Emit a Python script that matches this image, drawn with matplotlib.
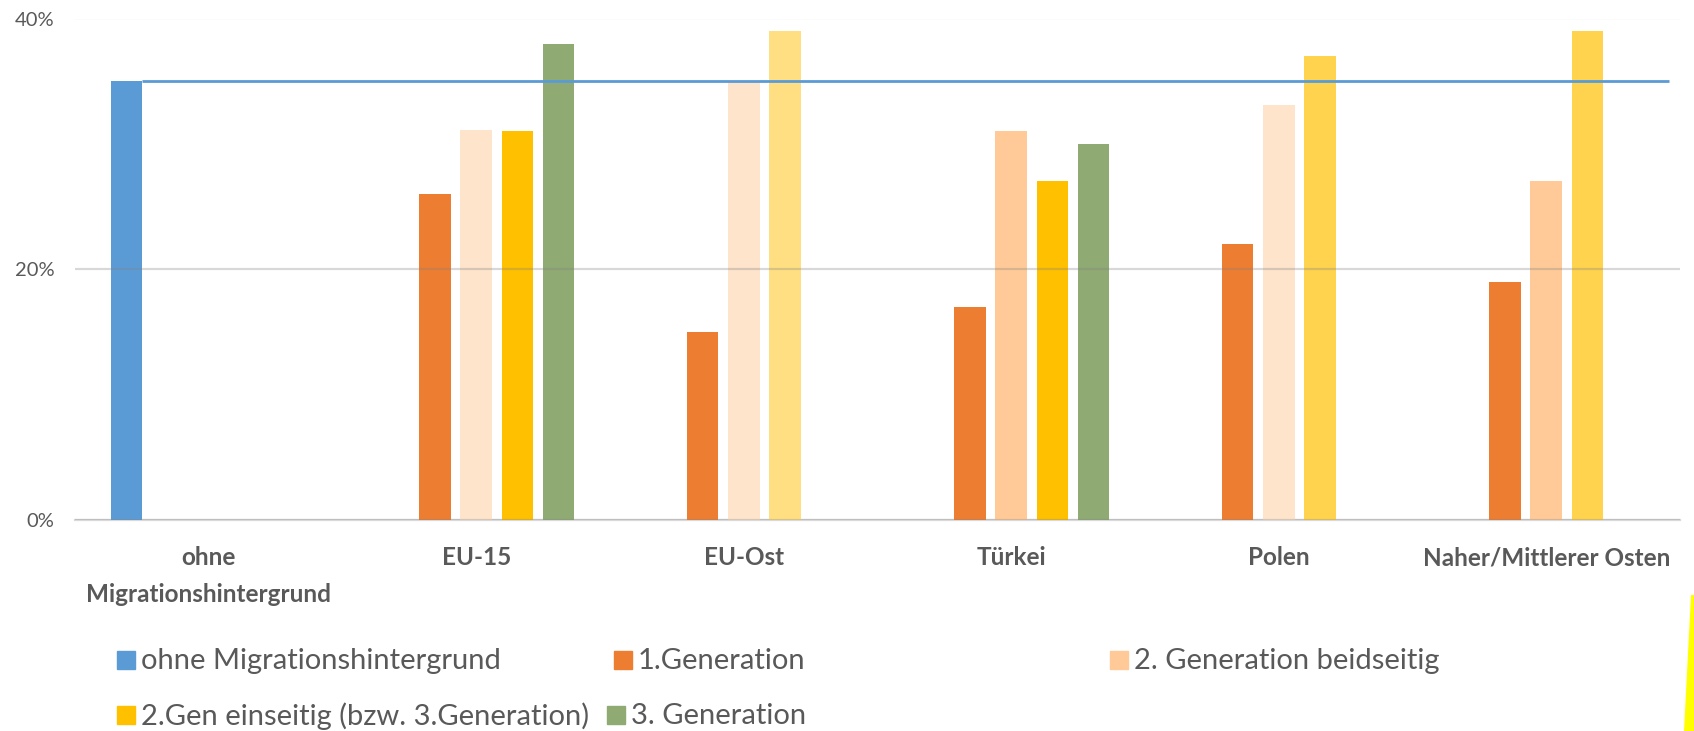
import numpy as np
import matplotlib
matplotlib.use("Agg")
import matplotlib.pyplot as plt
from matplotlib.patches import Rectangle, Polygon

plt.rcParams['font.family'] = ['Lato', 'DejaVu Sans']

# categories and series (values in %)
categories = ["ohne\nMigrationshintergrund", "EU-15", "EU-Ost", "Türkei", "Polen",
              "Naher/Mittlerer Osten"]
series_names = ["ohne Migrationshintergrund", "1.Generation", "2. Generation beidseitig",
                "2.Gen einseitig (bzw. 3.Generation)", "3. Generation"]
ohne_mh = [35, 0, 0, 0, 0, 0]
gen1 = [0, 26, 15, 17, 22, 19]
gen2_beid = [0, 31.1, 35, 31, 33.1, 27]
gen2_ein = [0, 31, 39, 27, 37, 39]
gen3 = [0, 38, 0, 30, 0, 0]
reference_level = 35
reference_end = 5.46

values = [ohne_mh, gen1, gen2_beid, gen2_ein, gen3]

# colours per series and per category (the source chart varies the shades)
blue = "#5B9BD5"
orange = "#ED7D31"
peach_light = "#FEE4CB"
peach = "#FFCA97"
gold = "#FFC000"
gold_light = "#FFDF82"
gold_mid = "#FFD34E"
green = "#8FAA73"
bar_colors = [
    [blue] * 6,
    [orange] * 6,
    [peach_light, peach_light, peach_light, peach, peach_light, peach],
    [gold, gold, gold_light, gold, gold_mid, gold_mid],
    [green] * 6,
]
legend_colors = [blue, orange, peach, gold, green]
text_color = "#595959"

W, H = 1694, 731
fig = plt.figure(figsize=(W / 100, H / 100), dpi=100)
ax = fig.add_axes([75 / W, 1 - 520 / H, (1680 - 75) / W, (520 - 18.5) / H])

x = np.arange(len(categories))
pitch = 0.1535
width = 0.118
for i, vals in enumerate(values):
    offs = (i - 2) * pitch
    for j, v in enumerate(vals):
        if v > 0:
            ax.bar(x[j] + offs, v, width, color=bar_colors[i][j], zorder=2)

# reference line from the edge of the blue bar
x0 = x[0] - 2 * pitch + width / 2
ax.plot([x0, reference_end], [reference_level, reference_level], color=blue, lw=2,
        zorder=3, solid_capstyle='butt')

ax.set_xlim(-0.5, len(categories) - 0.5)
ax.set_ylim(0, 40)
ax.set_yticks([0, 20, 40])
ax.set_yticklabels(["0%", "20%", "40%"])
ax.yaxis.grid(True, color="#808080", alpha=0.3, lw=1.6, zorder=4)
ax.set_axisbelow(False)
for s in ["top", "right", "left"]:
    ax.spines[s].set_visible(False)
ax.spines["bottom"].set_color("#D9D9D9")
ax.spines["bottom"].set_linewidth(1.6)
ax.spines["bottom"].set_zorder(1)
ax.tick_params(axis="y", length=0, pad=15, labelsize=14.5, labelcolor=text_color)
ax.tick_params(axis="x", length=0, pad=19, labelcolor=text_color)
ax.set_xticks(x)
ax.set_xticklabels(categories, fontsize=17.5, fontweight="bold", linespacing=1.7)

# legend drawn by hand to keep the irregular spacing of the original
legend_pos = [(117, 660), (614, 660), (1110, 660), (117, 715), (607, 715)]
sq = 18
for name, col, (lx, ly) in zip(series_names, legend_colors, legend_pos):
    fig.add_artist(Rectangle((lx / W, 1 - (ly + sq / 2) / H), sq / W, sq / H,
                             transform=fig.transFigure, color=col))
    fig.text((lx + sq + 6) / W, 1 - (ly + 1) / H, name, fontsize=21, color=text_color,
             va="center", ha="left")

# yellow streak at the right edge of the original screenshot
fig.add_artist(Polygon([(1691 / W, 1 - 595 / H), (1, 1 - 595 / H), (1, 0), (1684 / W, 0)],
                       closed=True, transform=fig.transFigure, color="#FFFF00", lw=0))

fig.savefig("out.png", dpi=100)
